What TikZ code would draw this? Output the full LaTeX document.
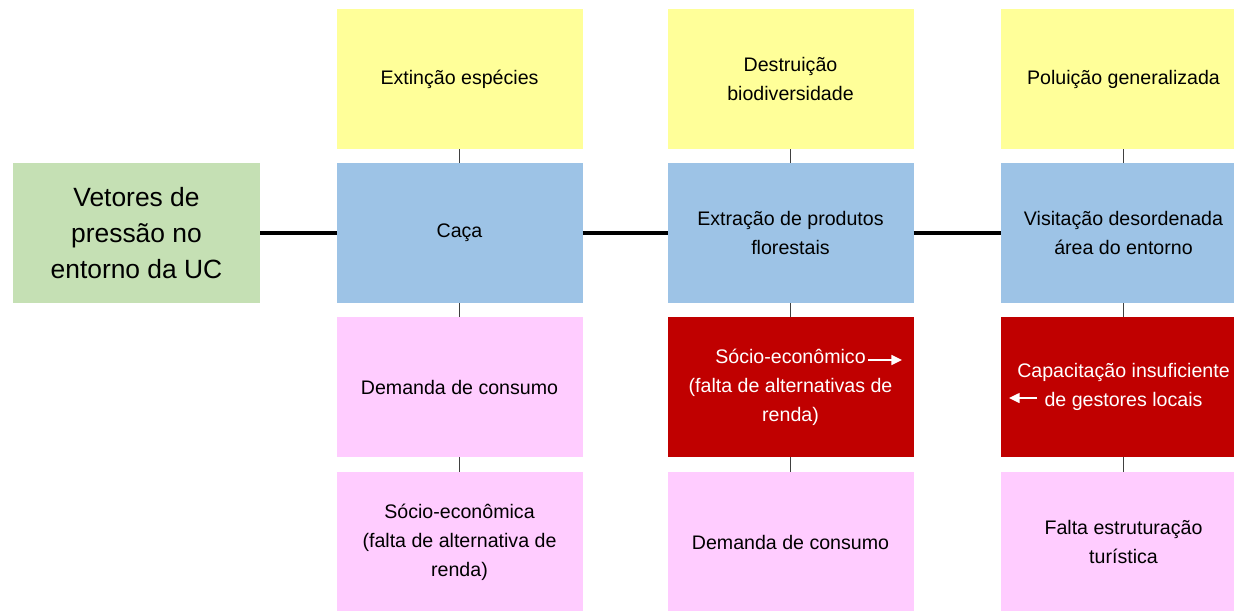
\documentclass[tikz,border=0pt]{standalone}
\usepackage{fontspec}
\setmainfont{Liberation Sans}
\usepackage{xcolor}
\usetikzlibrary{arrows.meta}

\definecolor{verde}{HTML}{C5E0B4}
\definecolor{amarelo}{HTML}{FFFF99}
\definecolor{azul}{HTML}{9DC3E6}
\definecolor{rosa}{HTML}{FFCCFF}
\definecolor{vermelho}{HTML}{C00000}
\definecolor{linha}{HTML}{404040}

\begin{document}
\begin{tikzpicture}[x=0.75pt, y=-0.75pt,
    caixa/.style={inner sep=0pt, outer sep=0pt, minimum width=184.5pt, minimum height=105pt,
        align=center, font=\fontsize{14.7}{21.75}\selectfont},
    efeito/.style={caixa, fill=amarelo},
    vetor/.style={caixa, fill=azul},
    causa/.style={caixa, fill=rosa},
    critica/.style={caixa, fill=vermelho, text=white},
    liga/.style={line width=0.9pt, color=linha},
    eixo/.style={line width=3pt, color=black},
    seta/.style={line width=1.1pt, color=white, -{Triangle[width=7.5pt, length=8pt]}}]
    \clip (0,0) rectangle (1234,610);
    % raiz
    \node[caixa, fill=verde, minimum width=185.25pt, font=\fontsize{19.8}{27}\selectfont]
        (vetores) at (136.5,233) {Vetores de\\pressão no\\entorno da UC};
    % coluna 1
    \node[efeito] (extincao) at (459.5,79) {Extinção espécies};
    \node[vetor] (caca) at (459.5,233) {Caça};
    \node[causa] (demanda1) at (459.5,387) {Demanda de consumo};
    \node[causa] (socio1) at (459.5,542) {Sócio-econômica\\(falta de alternativa de\\renda)};
    % coluna 2
    \node[efeito] (destruicao) at (790.5,79) {Destruição\\biodiversidade};
    \node[vetor] (extracao) at (790.5,233) {Extração de produtos\\florestais};
    \node[critica] (socio2) at (790.5,387) {Sócio-econômico\\(falta de alternativas de\\renda)};
    \node[causa] (demanda2) at (790.5,542) {Demanda de consumo};
    % coluna 3
    \node[efeito] (poluicao) at (1123.5,79) {Poluição generalizada};
    \node[vetor] (visitacao) at (1123.5,233) {Visitação desordenada\\área do entorno};
    \node[critica] (capacitacao) at (1123.5,387) {Capacitação insuficiente\\de gestores locais};
    \node[causa] (estrutura) at (1123.5,542) {Falta estruturação\\turística};
    % eixo principal
    \draw[eixo] (vetores) -- (caca);
    \draw[eixo] (caca) -- (extracao);
    \draw[eixo] (extracao) -- (visitacao);
    % ligacoes verticais
    \foreach \a/\b in {extincao/caca, caca/demanda1, demanda1/socio1,
        destruicao/extracao, extracao/socio2, socio2/demanda2,
        poluicao/visitacao, visitacao/capacitacao, capacitacao/estrutura}
        \draw[liga] (\a) -- (\b);
    % setas brancas
    \coordinate (s2a) at (868,360);
    \coordinate (s2b) at (902,360);
    \coordinate (s3a) at (1037,398);
    \coordinate (s3b) at (1009,398);
    \draw[seta] (s2a) -- (s2b);
    \draw[seta] (s3a) -- (s3b);
\end{tikzpicture}
\end{document}
